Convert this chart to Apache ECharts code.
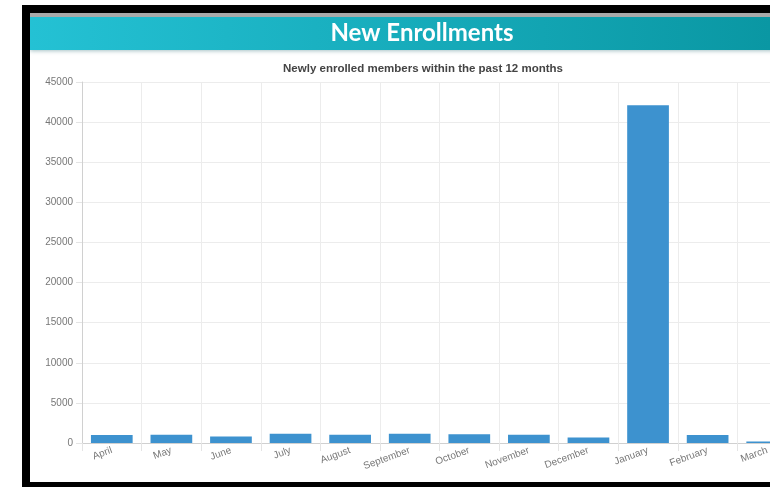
<!DOCTYPE html>
<html>
<head>
<meta charset="utf-8">
<script src="https://cdn.jsdelivr.net/npm/echarts@6/dist/echarts.min.js"></script>
<style>
html,body{margin:0;padding:0;background:#fff;overflow:hidden;width:770px;height:487px;}
#chart{width:800px;height:487px;}
</style>
</head>
<body>
<div id="chart"></div>
<script>
const months = ['April','May','June','July','August','September','October','November','December','January','February','March'];
const enrollments = [1000, 1040, 820, 1160, 1040, 1160, 1080, 1040, 700, 42100, 1000, 200];
const yMin = 0, yMax = 45000, yStep = 5000;
const titleText = 'New Enrollments';
const subtitleText = 'Newly enrolled members within the past 12 months';

const chart = echarts.init(document.getElementById('chart'), null, {renderer:'canvas'});
chart.setOption({
  animation: false,
  backgroundColor: '#ffffff',
  graphic: [
    {type:'rect', shape:{x:22,y:5,width:790,height:8}, style:{fill:'#000'}, z:10},
    {type:'rect', shape:{x:22,y:5,width:8,height:490}, style:{fill:'#000'}, z:10},
    {type:'rect', shape:{x:22,y:482,width:790,height:10}, style:{fill:'#000'}, z:10},
    {type:'rect', shape:{x:30,y:13,width:780,height:4}, style:{fill:'#a9a9a9'}, z:10},
    {type:'rect', shape:{x:30,y:17,width:780,height:33},
      style:{fill:new echarts.graphic.LinearGradient(0,0,770,0,[{offset:0,color:'#25c3d6'},{offset:1,color:'#0a97a3'}], true),
        shadowColor:'rgba(0,80,90,0.35)', shadowBlur:4, shadowOffsetY:1}, z:9}
  ],
  title: [
    {text: titleText, left: 417, top: 16, textAlign:'center',
      textStyle:{color:'#fff', fontSize:24, fontWeight:'bold', fontFamily:'Lato'}, z:12},
    {text: subtitleText, left: 418, top: 58, textAlign:'center',
      textStyle:{color:'#444', fontSize:11.5, fontWeight:'bold', fontFamily:'Liberation Sans'}}
  ],
  grid: {left: 82, top: 82, width: 715, height: 361, containLabel:false},
  xAxis: {
    type:'category', data: months, boundaryGap:true,
    axisLine:{show:true, lineStyle:{color:'#d0d0d0'}},
    axisTick:{show:true, length:8, lineStyle:{color:'#e4e4e4'}},
    splitLine:{show:true, lineStyle:{color:'#ececec'}},
    axisLabel:{rotate:20, fontSize:10, color:'#777', fontFamily:'Liberation Sans', margin:7, interval:0}
  },
  yAxis: {
    type:'value', min:yMin, max:yMax, interval:yStep,
    axisLine:{show:true, lineStyle:{color:'#d0d0d0'}},
    axisTick:{show:true, length:6, lineStyle:{color:'#e4e4e4'}},
    splitLine:{show:true, lineStyle:{color:'#ececec'}},
    axisLabel:{fontSize:10, color:'#777', fontFamily:'Liberation Sans', margin:9, formatter: v => String(v)}
  },
  series: [{
    type:'bar', data: enrollments, barWidth:'70%',
    itemStyle:{color:'#3d92cf'}
  }]
});
</script>
</body>
</html>
